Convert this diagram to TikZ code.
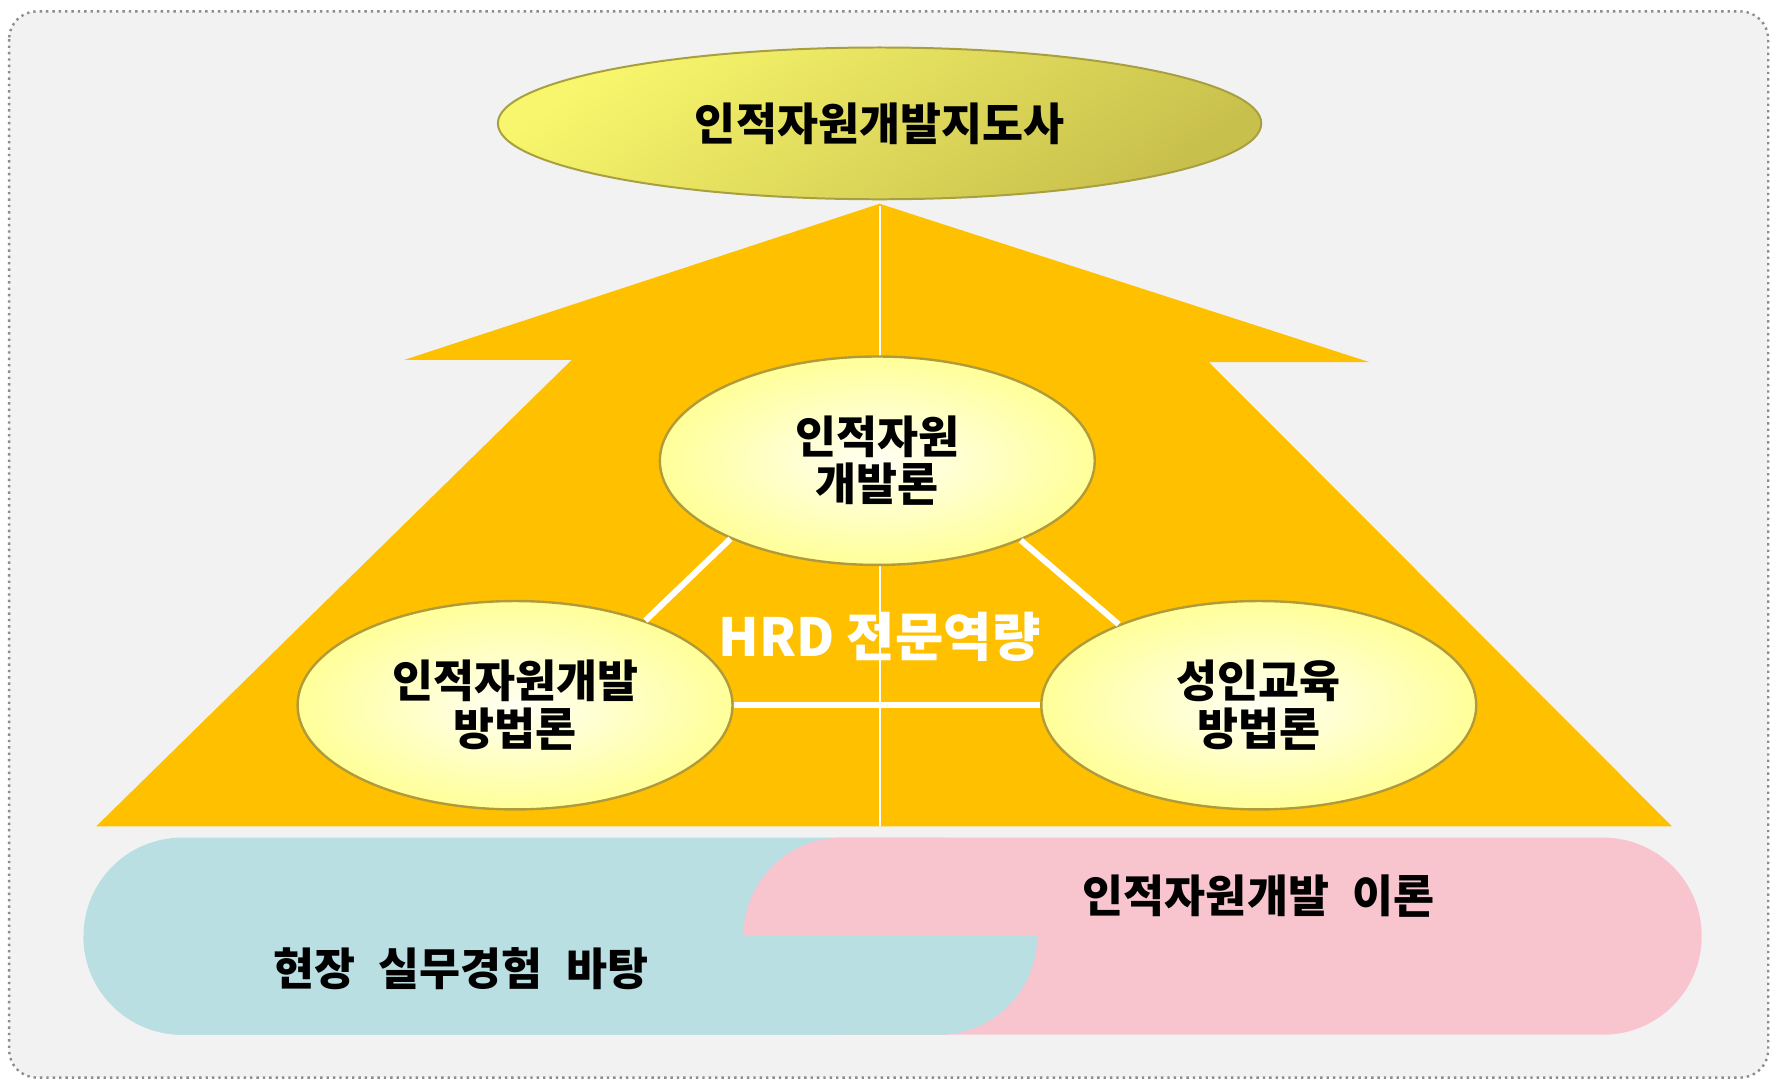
\documentclass[tikz,border=0pt]{standalone}
\usepackage{fontspec}
\newfontfamily\kr{Noto Sans CJK KR}
\usetikzlibrary{shapes.geometric,shapes.misc}
\definecolor{bgfill}{HTML}{F2F2F2}
\definecolor{framec}{HTML}{8C8C8C}
\definecolor{arrowc}{HTML}{FFC000}
\definecolor{ellA}{HTML}{F8F66C}
\definecolor{ellB}{HTML}{C8C04C}
\definecolor{ellline}{HTML}{A8A040}
\definecolor{circin}{HTML}{FFFFF4}
\definecolor{circout}{HTML}{FFFF99}
\definecolor{circline}{HTML}{B09A3A}
\definecolor{bluec}{HTML}{B9DFE3}
\definecolor{pinkc}{HTML}{F8C4CE}
\newcommand{\wsp}{\hspace{0.3em}}
\begin{document}
\begin{tikzpicture}[x=0.01cm,y=-0.01cm,
  txt/.style={font=\kr\bfseries\fontsize{11.2pt}{12pt}\selectfont, align=center, inner sep=0pt},
  topell/.style={ellipse, draw=ellline, line width=0.5pt, top color=ellA, bottom color=ellB, shading angle=35, minimum width=6.74cm, minimum height=1.34cm, inner sep=0pt},
  circ/.style={ellipse, draw=circline, line width=0.6pt, inner color=circin, outer color=circout, minimum width=3.84cm, minimum height=1.84cm, inner sep=0pt},
  band/.style={rounded rectangle, minimum height=1.74cm, inner sep=0pt},
  link/.style={draw=white, line width=1.5pt}
]
\useasboundingbox (0,0) rectangle (1568,955);
\fill[white] (0,0) rectangle (1568,955);
% frame
\draw[fill=bgfill, draw=framec, densely dotted, line width=0.6pt, rounded corners=7pt] (8,10) rectangle (1562,952);
% top ellipse
\node[topell, txt] (title) at (777,109) {인적자원개발지도사};
% big arrow
\fill[arrowc] (777,180) -- (1210,320) -- (1068,320) -- (1477,730) -- (85,730) -- (505,318) -- (357,318) -- cycle;
\coordinate (tip) at (777,182);
\coordinate (base) at (777,730);
\draw[white, line width=0.5pt] (tip) -- (base);
% circles
\node[circ, txt] (ctop) at (775,407) {인적자원\\개발론};
\node[circ, txt] (cleft) at (455,623) {인적자원개발\\방법론};
\node[circ, txt] (cright) at (1112,623) {성인교육\\방법론};
\draw[link] (ctop.208) -- (cleft.33);
\draw[link] (ctop.331) -- (cright.150);
\draw[link] (cleft.east) -- (cright.west);
\node[font=\kr\bfseries\fontsize{13.2pt}{15pt}\selectfont, text=white, inner sep=0pt] (hrd) at (777,563) {HRD 전문역량};
% bottom bands
\node[band, fill=bluec, minimum width=8.42cm] (blue) at (495,827) {};
\node[band, fill=pinkc, minimum width=8.46cm] (pink) at (1080,827) {};
\begin{scope}
\clip (0,827) rectangle (1568,955);
\node[band, fill=bluec, minimum width=8.42cm] (bluelow) at (495,827) {};
\end{scope}
\node[txt] (bluetxt) at (407,856) {현장 {\wsp}실무경험 {\wsp}바탕};
\node[txt] (pinktxt) at (1112,792) {인적자원개발 {\wsp}이론};
\end{tikzpicture}
\end{document}
